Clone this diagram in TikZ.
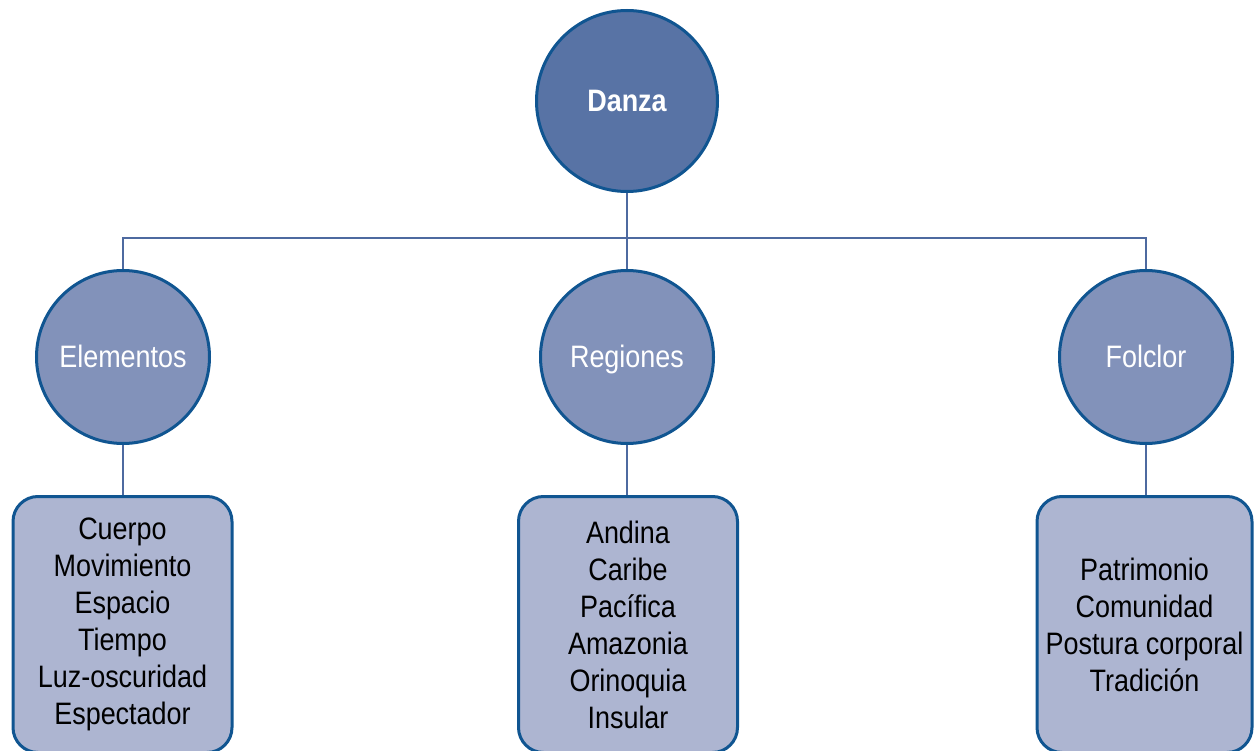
\documentclass[tikz,border=0pt]{standalone}
\usepackage{fontspec}
\setmainfont[FakeStretch=0.87]{Liberation Sans}
\definecolor{topfill}{RGB}{88,115,165}
\definecolor{midfill}{RGB}{130,146,186}
\definecolor{boxfill}{RGB}{173,181,209}
\definecolor{edge}{RGB}{16,85,145}
\definecolor{conncol}{RGB}{78,106,160}
\tikzset{
  topnode/.style={circle,draw=edge,line width=3pt,fill=topfill,minimum size=181pt,inner sep=0pt,text=white,text height=22pt,text depth=0pt,font=\fontsize{31}{37}\selectfont\bfseries},
  midnode/.style={circle,draw=edge,line width=3pt,fill=midfill,minimum size=173pt,inner sep=0pt,text=white,text height=22pt,text depth=0pt,font=\fontsize{31}{37}\selectfont},
  leafbox/.style={rectangle,rounded corners=25pt,draw=edge,line width=3pt,fill=boxfill,minimum width=219pt,minimum height=256pt,inner sep=0pt,align=center,text=black,font=\fontsize{31}{37}\selectfont},
  conn/.style={draw=conncol,line width=2pt}
}
\begin{document}
\begin{tikzpicture}[x=1pt,y=-1pt]
\useasboundingbox (0,0) rectangle (1254,751);
\node[topnode] (d) at (627,101) {Danza};
\node[midnode] (e) at (123,357) {Elementos};
\node[midnode] (r) at (627,357) {Regiones};
\node[midnode] (f) at (1146,357) {Folclor};
\node[leafbox] (eb) at (122.5,624.5) {Cuerpo\\Movimiento\\Espacio\\Tiempo\\Luz-oscuridad\\Espectador};
\node[leafbox] (rb) at (628,624.5) {Andina\\Caribe\\Pacífica\\Amazonia\\Orinoquia\\Insular};
\node[leafbox,minimum width=215pt] (fb) at (1144.5,624.5) {Patrimonio\\Comunidad\\Postura corporal\\Tradición};
\draw[conn] (d.south) -- (r.north);
\draw[conn] (e.north) -- ++(0,-31) -| (f.north);
\draw[conn] (e.south) -- (e.south |- eb.north);
\draw[conn] (r.south) -- (r.south |- rb.north);
\draw[conn] (f.south) -- (f.south |- fb.north);
\end{tikzpicture}
\end{document}
